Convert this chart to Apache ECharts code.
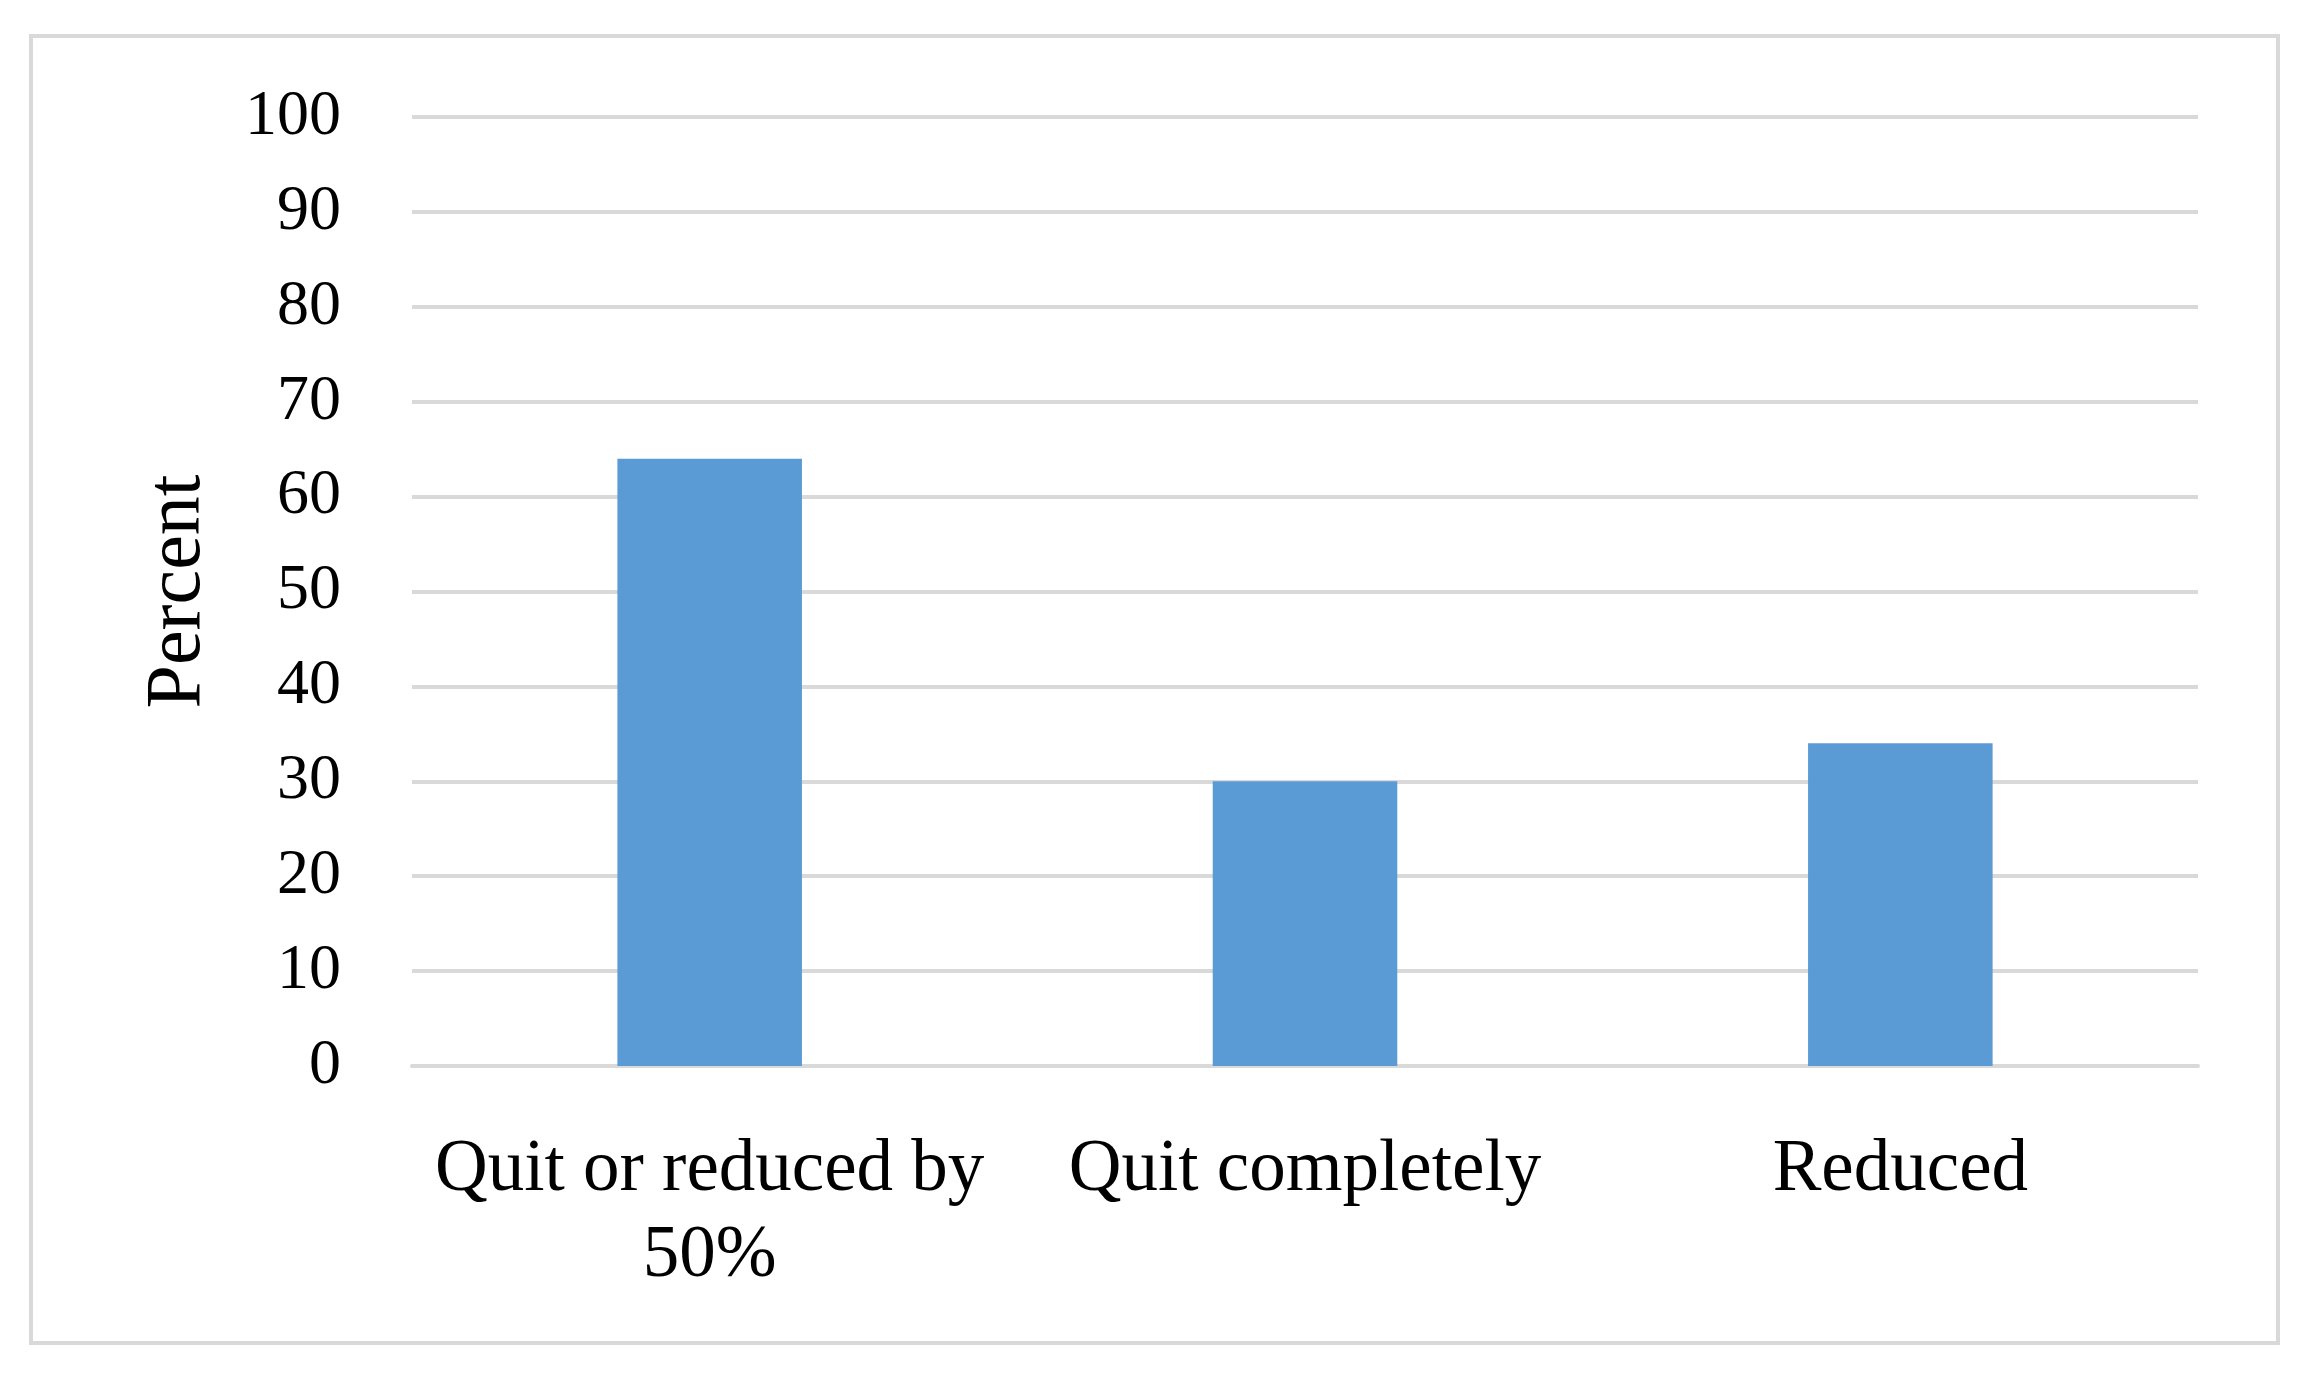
<!DOCTYPE html>
<html>
<head>
<meta charset="utf-8">
<script src="https://cdn.jsdelivr.net/npm/echarts@6/dist/echarts.min.js"></script>
<style>
  html, body { margin: 0; padding: 0; background: #fff; }
  #chart { width: 2324px; height: 1384px; }
</style>
</head>
<body>
<div id="chart"></div>
<script>
// data
var categories = ['Quit or reduced by\n50%', 'Quit completely', 'Reduced'];
var percentValues = [64, 30, 34];
var yTicks = { min: 0, max: 100, interval: 10 };

var fontFam = '"Liberation Serif", "DejaVu Serif", serif';
var gray = '#d9d9d9';

var chart = echarts.init(document.getElementById('chart'));
var option = {
  backgroundColor: '#fff',
  animation: false,
  graphic: [{
    type: 'rect',
    shape: { x: 31, y: 36, width: 2247, height: 1307 },
    style: { fill: 'none', stroke: gray, lineWidth: 4 }
  }],
  grid: { left: 412, right: 126, top: 117, bottom: 318 },
  xAxis: {
    type: 'category',
    data: categories,
    axisLine: { show: true, lineStyle: { color: gray, width: 4 } },
    axisTick: { show: false },
    axisLabel: {
      interval: 0,
      color: '#000',
      fontFamily: fontFam,
      fontSize: 73,
      lineHeight: 86,
      margin: 62
    }
  },
  yAxis: {
    type: 'value',
    min: yTicks.min,
    max: yTicks.max,
    interval: yTicks.interval,
    name: 'Percent',
    nameLocation: 'middle',
    nameGap: 194,
    nameTextStyle: { color: '#000', fontFamily: fontFam, fontSize: 78 },
    axisLine: { show: false },
    axisTick: { show: false },
    splitLine: { lineStyle: { color: gray, width: 4 } },
    axisLabel: {
      color: '#000',
      fontFamily: fontFam,
      fontSize: 64,
      margin: 71
    }
  },
  series: [{
    type: 'bar',
    data: percentValues,
    barWidth: '31%',
    itemStyle: { color: '#5b9bd5' }
  }]
};
chart.setOption(option);
</script>
</body>
</html>
